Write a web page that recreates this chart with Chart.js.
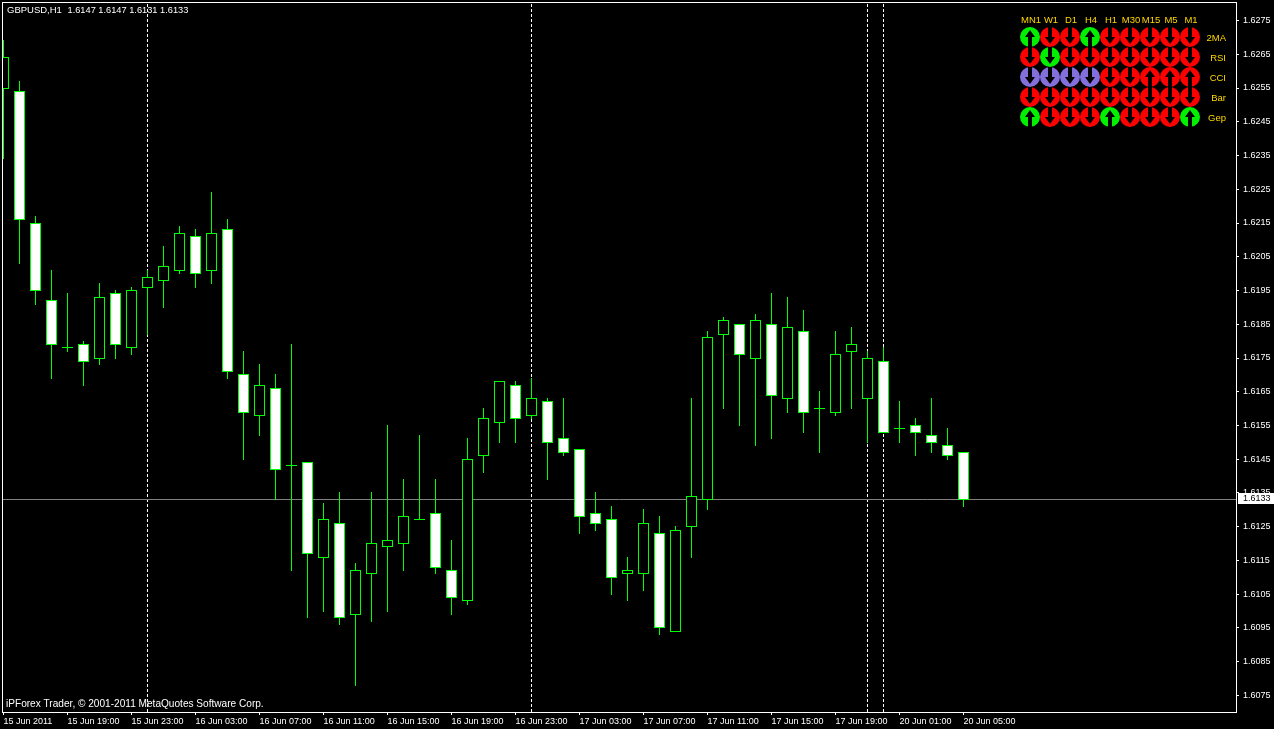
<!DOCTYPE html>
<html>
<head>
<meta charset="utf-8">
<title>GBPUSD,H1</title>
<style>
  html, body { margin: 0; padding: 0; background: #000; overflow: hidden; }
  canvas { display: block; }
</style>
<script src="https://cdn.jsdelivr.net/npm/chart.js@4/dist/chart.umd.min.js"></script>
</head>
<body>
<canvas id="chart" width="1274" height="729"></canvas>
<script>
const openPrices = [1.6255,1.6254,1.6215,1.6192,1.6178,1.6179,1.6175,1.6194,1.6178,1.6196,1.6198,1.6201,1.6211,1.6201,1.6213,1.6170,1.6158,1.6166,1.6143,1.6144,1.6116,1.6126,1.6099,1.6111,1.6119,1.6120,1.6127,1.6129,1.6112,1.6103,1.6146,1.6156,1.6167,1.6158,1.6162,1.6151,1.6148,1.6129,1.6127,1.6111,1.6111,1.6123,1.6094,1.6125,1.6133,1.6182,1.6185,1.6175,1.6185,1.6163,1.6183,1.6160,1.6159,1.6177,1.6163,1.6174,1.6154,1.6155,1.6152,1.6149,1.6147];
const closePrices = [1.6264,1.6216,1.6195,1.6179,1.6178,1.6174,1.6193,1.6179,1.6195,1.6199,1.6202,1.6212,1.6200,1.6212,1.6171,1.6159,1.6167,1.6142,1.6143,1.6117,1.6127,1.6098,1.6112,1.6120,1.6121,1.6128,1.6127,1.6113,1.6104,1.6145,1.6157,1.6168,1.6157,1.6163,1.6150,1.6147,1.6128,1.6126,1.6110,1.6112,1.6126,1.6095,1.6124,1.6134,1.6181,1.6186,1.6176,1.6186,1.6164,1.6184,1.6159,1.6160,1.6176,1.6179,1.6175,1.6153,1.6154,1.6153,1.6150,1.6146,1.6133];
const highPrices = [1.6269,1.6257,1.6217,1.6201,1.6194,1.6180,1.6197,1.6195,1.6196,1.6201,1.6208,1.6214,1.6213,1.6224,1.6216,1.6177,1.6173,1.6170,1.6179,1.6144,1.6132,1.6135,1.6114,1.6135,1.6155,1.6139,1.6152,1.6139,1.6121,1.6151,1.6160,1.6168,1.6168,1.6169,1.6163,1.6163,1.6148,1.6135,1.6131,1.6116,1.6130,1.6128,1.6125,1.6163,1.6183,1.6187,1.6185,1.6188,1.6194,1.6193,1.6189,1.6165,1.6183,1.6184,1.6177,1.6178,1.6162,1.6157,1.6163,1.6154,1.6147];
const lowPrices = [1.6234,1.6203,1.6191,1.6169,1.6177,1.6167,1.6173,1.6175,1.6176,1.6182,1.6190,1.6200,1.6196,1.6197,1.6169,1.6145,1.6152,1.6133,1.6112,1.6098,1.6100,1.6096,1.6078,1.6097,1.6100,1.6112,1.6127,1.6111,1.6099,1.6102,1.6141,1.6150,1.6150,1.6157,1.6139,1.6146,1.6123,1.6124,1.6105,1.6103,1.6106,1.6093,1.6094,1.6116,1.6130,1.6160,1.6155,1.6149,1.6151,1.6159,1.6153,1.6147,1.6158,1.6160,1.6150,1.6153,1.6150,1.6146,1.6147,1.6145,1.6131];

const timeLabels = ["15 Jun 2011","15 Jun 19:00","15 Jun 23:00","16 Jun 03:00","16 Jun 07:00","16 Jun 11:00","16 Jun 15:00","16 Jun 19:00","16 Jun 23:00","17 Jun 03:00","17 Jun 07:00","17 Jun 11:00","17 Jun 15:00","17 Jun 19:00","20 Jun 01:00","20 Jun 05:00"];
const priceTicks = [1.6275,1.6265,1.6255,1.6245,1.6235,1.6225,1.6215,1.6205,1.6195,1.6185,1.6175,1.6165,1.6155,1.6145,1.6135,1.6125,1.6115,1.6105,1.6095,1.6085,1.6075];
const separatorBars = [9, 33, 54, 55];

const panelCols = ["MN1","W1","D1","H4","H1","M30","M15","M5","M1"];
const panelRows = ["2MA","RSI","CCI","Bar","Gep"];
// g/r/p colour, u/d arrow direction
const signals2MA = ["gu","rd","rd","gu","rd","rd","rd","rd","rd"];
const signalsRSI = ["rd","gd","rd","rd","rd","rd","rd","rd","rd"];
const signalsCCI = ["pd","pd","pd","pd","rd","rd","ru","ru","ru"];
const signalsBar = ["rd","rd","rd","rd","rd","rd","rd","rd","rd"];
const signalsGep = ["gu","rd","rd","rd","gu","rd","rd","rd","gu"];

const GREEN = "#00ff00";
const FONT = '9px "Liberation Sans"';
const GOLD = "#ffd700";

const lastClose = closePrices[closePrices.length - 1];
const lastIndex = closePrices.length - 1;

function makeGlyph(code) {
  const c = document.createElement("canvas");
  c.width = 20;
  c.height = 20;
  const g = c.getContext("2d");
  g.fillStyle = { g: "#00f000", r: "#ff0000", p: "#8470dc" }[code[0]];
  g.beginPath();
  g.arc(10, 10, 10, 0, Math.PI * 2);
  g.fill();
  if (code[1] === "u") {
    g.translate(0, 20);
    g.scale(1, -1);
  }
  // the arrow is cut out of the disc, drawn pointing down
  g.fillStyle = "#000";
  g.beginPath();
  g.moveTo(8, 0);
  g.lineTo(12, 0);
  g.lineTo(12, 10);
  g.lineTo(15, 10);
  g.lineTo(10, 17);
  g.lineTo(5, 10);
  g.lineTo(8, 10);
  g.closePath();
  g.fill();
  return c;
}

const glyphCache = {};
function glyphFor(code) {
  if (!glyphCache[code]) glyphCache[code] = makeGlyph(code);
  return glyphCache[code];
}

const panelCodes = [signals2MA, signalsRSI, signalsCCI, signalsBar, signalsGep];
const panelPoints = [];
const panelStyles = [];
panelCodes.forEach((row, r) => {
  row.forEach((code, k) => {
    panelPoints.push({ x: k, y: r });
    panelStyles.push(glyphFor(code));
  });
});

// scale ranges that put bar i at 3.5 + 16i and 1.6275 at row 20
const xMin = -0.03125, xMax = 77.03125;
const yMax = 1.62801852, yMin = 1.60701111;

// MT4 draws on whole pixels, so pull the bars and lines onto the grid
const snapPlugin = {
  id: "snap",
  afterDatasetsUpdate(chart) {
    chart.getSortedVisibleDatasetMetas().forEach(meta => {
      if (meta.type === "bar") {
        meta.data.forEach(el => {
          const top = Math.floor(Math.min(el.y, el.base) + 1e-6);
          const bottom = Math.floor(Math.max(el.y, el.base) + 1e-6) + 1;
          el.y = top;
          el.base = bottom;
        });
      } else if (meta.type === "line") {
        meta.data.forEach(el => {
          if (meta.yAxisID === "y" && meta.dataset.options.borderDash.length === 0) {
            el.y = Math.floor(el.y + 1e-6) + 0.5;
          }
        });
      }
    });
  }
};

const textPlugin = {
  id: "mtText",
  afterDraw(chart) {
    const { ctx, scales } = chart;
    ctx.save();
    ctx.strokeStyle = "#fff";
    ctx.lineWidth = 1;
    ctx.strokeRect(2.5, 2.5, 1234, 710);

    ctx.textBaseline = "middle";
    ctx.textAlign = "left";
    ctx.fillStyle = "#fff";
    const fmt = v => v.toFixed(4);
    ctx.font = '9.5px "Liberation Sans"';
    ctx.fillText("GBPUSD,H1", 7, 10);
    ctx.font = '9.25px "Liberation Sans"';
    ctx.fillText(`${fmt(openPrices[lastIndex])} ${fmt(highPrices[lastIndex])} ${fmt(lowPrices[lastIndex])} ${fmt(closePrices[lastIndex])}`, 67.5, 10);
    ctx.font = '10.1px "Liberation Sans"';
    ctx.fillText("iPForex Trader, © 2001-2011 MetaQuotes Software Corp.", 6, 704);

    // current price tag on the axis
    ctx.font = FONT;
    const py = scales.y.getPixelForValue(lastClose);
    ctx.fillStyle = "#fff";
    ctx.fillRect(1238, 493, 36, 11);
    ctx.fillStyle = "#000";
    ctx.fillText(fmt(lastClose), 1243, py - 1);

    ctx.font = '9.5px "Liberation Sans"';
    ctx.fillStyle = GOLD;
    ctx.textAlign = "center";
    panelCols.forEach((name, k) => {
      ctx.fillText(name, scales.panelX.getPixelForValue(k) + 1, 20);
    });
    ctx.textAlign = "right";
    panelRows.forEach((name, r) => {
      ctx.fillText(name, 1226, scales.panelY.getPixelForValue(r) + 1);
    });
    ctx.restore();
  }
};

Chart.defaults.font.family = '"Liberation Sans"';
Chart.defaults.font.size = 9;
Chart.defaults.color = "#fff";

new Chart(document.getElementById("chart"), {
  type: "bar",
  data: {
    datasets: [
      {
        label: "Signals",
        type: "scatter",
        data: panelPoints,
        xAxisID: "panelX",
        yAxisID: "panelY",
        pointStyle: panelStyles,
        order: 0
      },
      {
        label: "Body",
        data: openPrices.map((o, i) => ({ x: i, y: [o, closePrices[i]] })),
        backgroundColor: openPrices.map((o, i) => closePrices[i] > o ? "#000" : "#fff"),
        borderColor: GREEN,
        borderWidth: 1,
        borderSkipped: false,
        inflateAmount: 0,
        barThickness: 11,
        grouped: false,
        order: 1
      },
      {
        label: "Wick",
        data: highPrices.map((h, i) => ({ x: i, y: [lowPrices[i], h] })),
        backgroundColor: GREEN,
        borderWidth: 0,
        inflateAmount: 0,
        barThickness: 1,
        grouped: false,
        order: 2
      },
      {
        label: "Last",
        type: "line",
        data: [{ x: xMin, y: lastClose }, { x: xMax, y: lastClose }],
        borderColor: "#808080",
        borderWidth: 1,
        pointRadius: 0,
        order: 3
      },
      ...separatorBars.map(b => ({
        label: "Separator",
        type: "line",
        data: [{ x: b, y: yMin }, { x: b, y: yMax }],
        borderColor: "#fff",
        borderWidth: 1,
        borderDash: [3, 2],
        pointRadius: 0,
        order: 4
      }))
    ]
  },
  options: {
    responsive: false,
    animation: false,
    events: [],
    layout: { autoPadding: false, padding: { left: 3, top: 3, right: 0, bottom: 0 } },
    plugins: { legend: { display: false }, tooltip: { enabled: false } },
    scales: {
      x: {
        type: "linear",
        offset: false,
        min: xMin,
        max: xMax,
        afterBuildTicks: axis => { axis.ticks = timeLabels.map((_, k) => ({ value: k * 4 })); },
        afterFit: axis => {
          axis.height = 17;
          axis.paddingLeft = axis.paddingRight = 0;
        },
        grid: { offset: false, drawOnChartArea: false, tickLength: 3, tickColor: "#fff" },
        border: { display: false },
        ticks: {
          autoSkip: false,
          maxRotation: 0,
          minRotation: 0,
          align: "start",
          padding: 1,
          color: "#fff",
          callback: (v, idx) => timeLabels[idx]
        }
      },
      y: {
        type: "linear",
        position: "right",
        min: yMin,
        max: yMax,
        afterBuildTicks: axis => { axis.ticks = priceTicks.map(value => ({ value })); },
        afterFit: axis => {
          axis.width = 38;
          axis.paddingTop = axis.paddingBottom = 0;
        },
        grid: { drawOnChartArea: false, tickLength: 3, tickColor: "#fff" },
        border: { display: false },
        ticks: {
          autoSkip: false,
          padding: 4,
          color: "#fff",
          callback: v => v.toFixed(4)
        }
      },
      panelX: { type: "linear", offset: false, grid: { offset: false }, display: false, min: -51.35, max: 10.3 },
      panelY: { type: "linear", display: false, reverse: true, min: -1.7, max: 33.75 }
    }
  },
  plugins: [snapPlugin, textPlugin]
});
</script>
</body>
</html>
